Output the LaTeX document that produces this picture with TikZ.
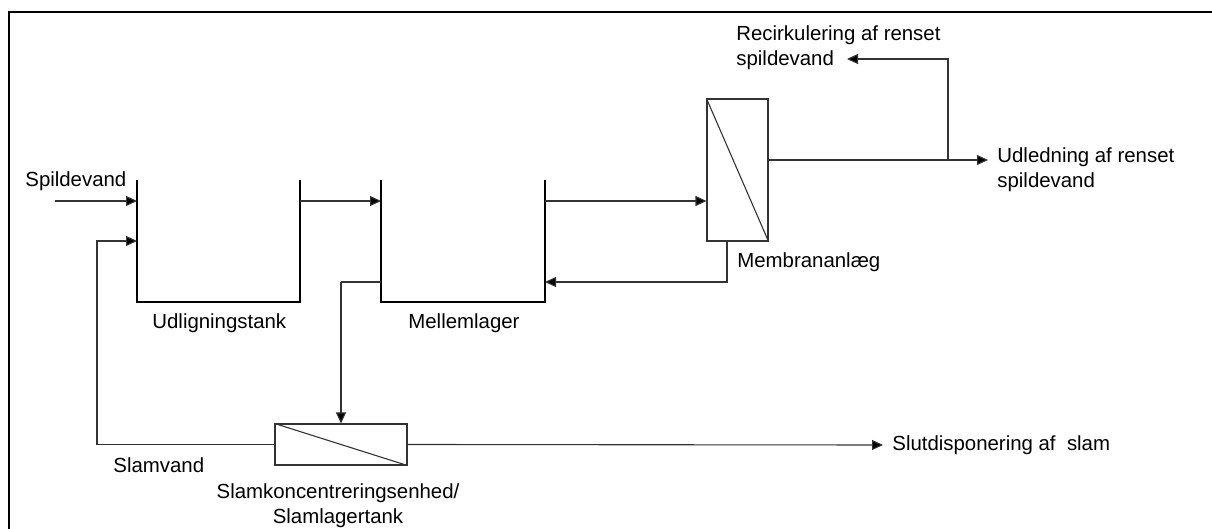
\documentclass[tikz,border=0pt]{standalone}
\usepackage{fontspec}
\setmainfont{Liberation Sans}
\usetikzlibrary{arrows.meta}
\begin{document}
\begin{tikzpicture}[x=0.5pt,y=-0.5pt,
  line/.style={line width=0.55pt,draw=black!80},
  tank/.style={line width=0.6pt,draw=black},
  arr/.style={line width=0.55pt,draw=black!80,-{Triangle[length=5.5pt,width=5pt,fill=black]}},
  unit/.style={draw=black!80,line width=0.55pt,inner sep=0pt},
  lbl/.style={inner sep=0pt,font=\fontsize{10.2}{12.5}\selectfont,align=left},
  frame/.style={line width=0.8pt,draw=black}]
\useasboundingbox (0,0) rectangle (1212,529);
% frame
\draw[frame] (1212,12) -- (9,12) -- (9,529);
% tanks
\coordinate (t1tl) at (137,180); \coordinate (t1bl) at (137,302);
\coordinate (t1br) at (300,302); \coordinate (t1tr) at (300,180);
\draw[tank] (t1tl) -- (t1bl) -- (t1br) -- (t1tr);
\coordinate (t2tl) at (381,180); \coordinate (t2bl) at (381,302);
\coordinate (t2br) at (545,302); \coordinate (t2tr) at (545,180);
\draw[tank] (t2tl) -- (t2bl) -- (t2br) -- (t2tr);
% units
\node[unit,minimum width=30.5pt,minimum height=71pt] (mem) at (737.5,170) {};
\draw[line] (mem.north west) -- (mem.south east);
\node[unit,minimum width=66pt,minimum height=20.5pt] (slam) at (341,444.5) {};
\draw[line] (slam.north west) -- (slam.south east);
% labels
\node[lbl,anchor=west] (lsp) at (25,181) {Spildevand};
\node[lbl,anchor=west] (lt1) at (152,323) {Udligningstank};
\node[lbl,anchor=west] (lt2) at (408,323) {Mellemlager};
\node[lbl,anchor=west] (lmem) at (737,262) {Membrananlæg};
\node[lbl,anchor=west] (lrec) at (736,47.5) {Recirkulering af renset\\spildevand};
\node[lbl,anchor=west] (lud) at (997,169.5) {Udledning af renset\\spildevand};
\node[lbl,anchor=west] (lslv) at (113,465) {Slamvand};
\node[lbl,align=center] (lslu) at (338,505.5) {Slamkoncentreringsenhed/\\Slamlagertank};
\node[lbl,anchor=west] (lslut) at (892,445) {Slutdisponering af~~slam};
% connectors
\coordinate (in1) at (55,201);
\coordinate (t1in1) at (137,201);
\coordinate (t1in2) at (137,241);
\coordinate (t1out) at (300,201);
\coordinate (t2in) at (381,201);
\coordinate (t2out) at (545,201);
\coordinate (t2ret) at (545,282);
\coordinate (t2sl) at (381,282);
\coordinate (recend) at (847,59);
\coordinate (udend) at (988,160);
\coordinate (slutend) at (883,445);
\coordinate (br) at (948,160);
\draw[arr] (in1) -- (t1in1);
\draw[arr] (t1out) -- (t2in);
\draw[arr] (t2out) -- (mem.west |- t2out);
\draw[arr] (mem.south -| 727,0) |- (t2ret);
\draw[line] (t2sl) -- (341,282);
\draw[arr] (341,282) -- (slam.north);
\draw[arr] (slam.west) -| (97,241) -- (t1in2);
\draw[arr] (slam.east) -- (slutend);
\draw[arr] (mem.east |- udend) -- (udend);
\draw[arr] (br) |- (recend);
\end{tikzpicture}
\end{document}
